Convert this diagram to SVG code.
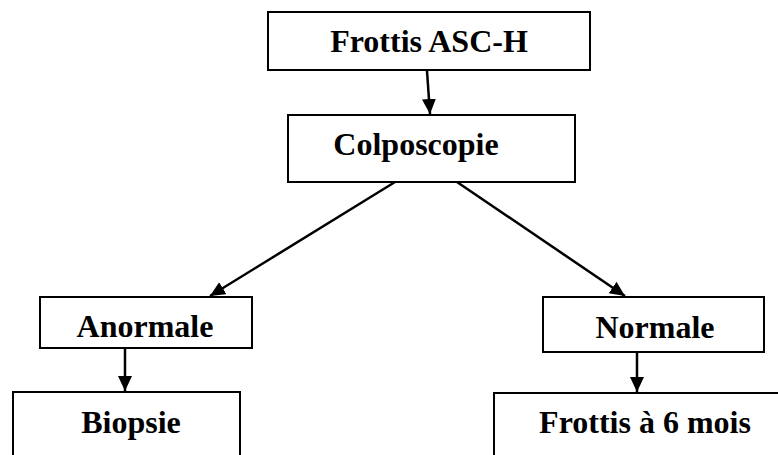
<svg xmlns="http://www.w3.org/2000/svg" width="778" height="455" viewBox="0 0 778 455">
<style>
.box{fill:#fff;stroke:#000;stroke-width:2}
.lbl{font-family:"Liberation Serif","Times New Roman",serif;font-weight:bold;font-size:32px;fill:#000;text-anchor:middle}
.con{stroke:#000;stroke-width:2.5;fill:none}
</style>
<defs>
<marker id="ah" markerUnits="userSpaceOnUse" markerWidth="18" markerHeight="16" refX="15" refY="7" orient="auto">
<path d="M0,0 L15,7 L0,14 Z" fill="#000"/>
</marker>
</defs>
<rect width="778" height="455" fill="#fff"/>
<g id="n-frottis-asch">
<rect class="box" x="268" y="12" width="322" height="58"/>
<text class="lbl" x="429" y="52">Frottis ASC-H</text>
</g>
<g id="n-colposcopie">
<rect class="box" x="288" y="115" width="287" height="67"/>
<text class="lbl" x="416" y="155">Colposcopie</text>
</g>
<g id="n-anormale">
<rect class="box" x="40" y="297" width="212" height="51"/>
<text class="lbl" x="145" y="337">Anormale</text>
</g>
<g id="n-normale">
<rect class="box" x="543" y="297" width="221" height="55"/>
<text class="lbl" x="655" y="338">Normale</text>
</g>
<g id="n-biopsie">
<rect class="box" x="13" y="392" width="227" height="80"/>
<text class="lbl" x="131" y="433">Biopsie</text>
</g>
<g id="n-frottis-6mois">
<rect class="box" x="494" y="393" width="300" height="80"/>
<text class="lbl" x="645" y="433">Frottis à 6 mois</text>
</g>
<g id="connectors">
<line class="con" x1="427" y1="71" x2="430" y2="114" marker-end="url(#ah)"/>
<line class="con" x1="395" y1="182" x2="210" y2="296" marker-end="url(#ah)"/>
<line class="con" x1="457" y1="182" x2="625" y2="296" marker-end="url(#ah)"/>
<line class="con" x1="125" y1="349" x2="125" y2="391" marker-end="url(#ah)"/>
<line class="con" x1="637" y1="353" x2="637" y2="392" marker-end="url(#ah)"/>
</g>
</svg>
